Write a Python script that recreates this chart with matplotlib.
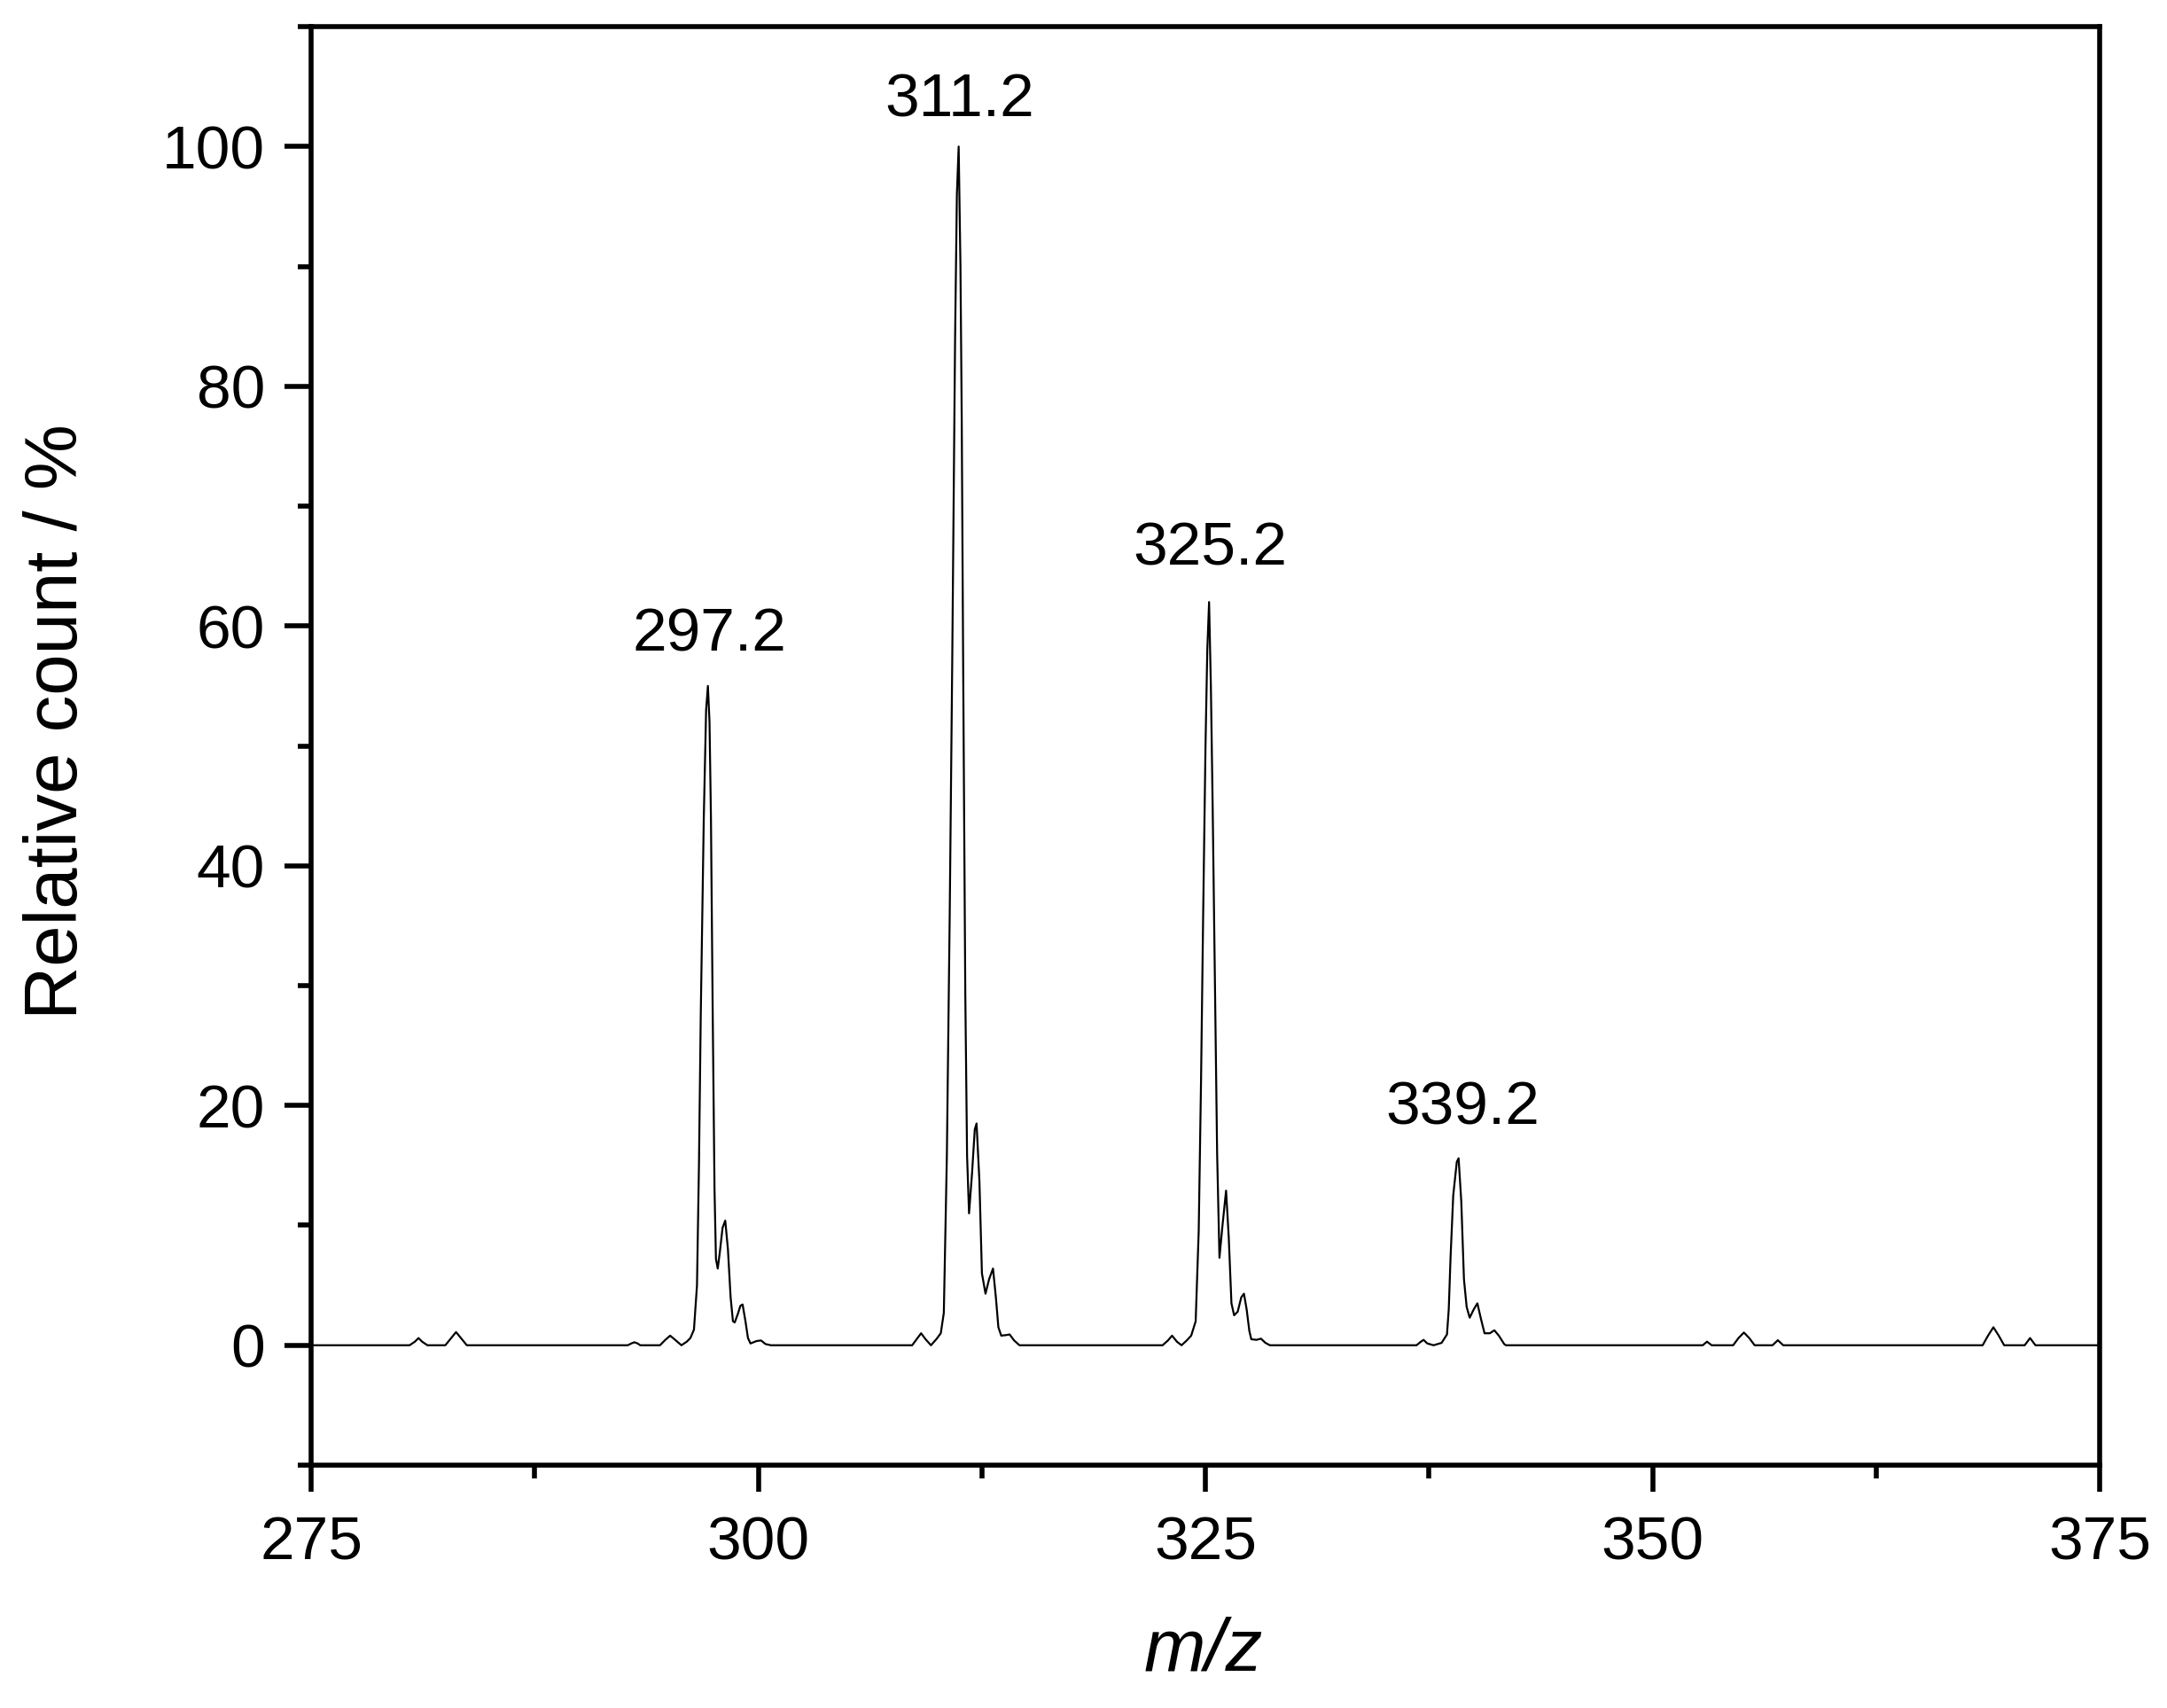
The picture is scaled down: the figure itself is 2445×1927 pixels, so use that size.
import matplotlib
matplotlib.use("Agg")
import matplotlib.pyplot as plt
from matplotlib.ticker import MultipleLocator

# profile of the spectrum (m/z, relative count in %)
mz = [275.0, 280.5, 280.8, 281.0, 281.2, 281.5, 282.5, 282.8, 283.1, 283.4, 283.7,
      292.7, 292.9, 293.07, 293.25, 293.4, 294.5, 294.8, 295.07, 295.35, 295.7,
      296.0, 296.2, 296.4, 296.57, 296.68, 296.78, 296.95, 297.08, 297.18, 297.27,
      297.35, 297.45, 297.55, 297.63, 297.73, 297.85, 298.0, 298.15, 298.3, 298.45,
      298.58, 298.68, 298.85, 299.0, 299.12, 299.28, 299.42, 299.56, 299.9, 300.15,
      300.4, 300.7,
      308.6, 308.85, 309.1, 309.35, 309.65, 309.95, 310.2, 310.37, 310.54, 310.7,
      310.84, 311.0, 311.1, 311.2, 311.3, 311.37, 311.45, 311.57, 311.67, 311.78,
      311.95, 312.1, 312.2, 312.36, 312.5, 312.7, 312.9, 313.12, 313.28, 313.42,
      313.58, 313.85, 314.05, 314.3, 314.6,
      322.6, 322.9, 323.13, 323.4, 323.66, 323.95, 324.2, 324.45, 324.62, 324.75,
      324.87, 325.0, 325.1, 325.2, 325.3, 325.4, 325.53, 325.65, 325.78, 325.95,
      326.15, 326.3, 326.45, 326.6, 326.8, 327.0, 327.15, 327.3, 327.45, 327.56,
      327.85, 328.1, 328.35, 328.6,
      336.8, 337.0, 337.19, 337.4, 337.75, 338.2, 338.5, 338.6, 338.7, 338.85,
      339.05, 339.15, 339.3, 339.45, 339.6, 339.77, 340.0, 340.2, 340.4, 340.6,
      340.9, 341.15, 341.4, 341.7, 341.8,
      352.8, 353.04, 353.3, 354.5, 354.8, 355.1, 355.4, 355.7, 356.7, 357.0, 357.3,
      368.45, 368.75, 369.05, 369.35, 369.65, 370.8, 371.1, 371.4, 375.0]
rel = [0, 0, 0.3, 0.6, 0.3, 0, 0, 0.55, 1.1, 0.55, 0,
       0, 0.15, 0.25, 0.15, 0, 0, 0.45, 0.8, 0.45, 0.0,
       0.3, 0.6, 1.3, 5, 15, 27.5, 44, 53, 55, 52,
       44, 27.5, 13, 7.2, 6.4, 7.8, 9.8, 10.4, 8, 4,
       2.0, 1.9, 2.6, 3.3, 3.4, 2.0, 0.6, 0.15, 0.35, 0.4,
       0.1, 0,
       0, 0.5, 1.0, 0.5, 0, 0.5, 1.0, 2.7, 15.8, 36,
       57, 84, 96, 100, 90, 77.5, 57, 29.4, 15.8, 11,
       14.4, 18, 18.5, 13.7, 6, 4.3, 5.5, 6.4, 4, 1.5,
       0.8, 0.85, 0.9, 0.4, 0,
       0, 0.4, 0.8, 0.3, 0, 0.4, 0.8, 2, 9.5, 22,
       36, 50, 58, 62, 55, 45, 30, 16, 7.3, 10,
       12.9, 9, 3.5, 2.5, 2.8, 4, 4.3, 3, 1.2, 0.5,
       0.45, 0.55, 0.2, 0,
       0, 0.25, 0.45, 0.15, 0, 0.2, 0.9, 3, 7.3, 12.5,
       15.3, 15.6, 12, 5.5, 3.2, 2.3, 3.0, 3.5, 2.2, 1.0,
       1.0, 1.25, 0.8, 0.1, 0,
       0, 0.3, 0, 0, 0.6, 1.06, 0.6, 0, 0, 0.42, 0,
       0, 0.8, 1.5, 0.8, 0, 0, 0.6, 0, 0]

# peak annotations
label_text = ["297.2", "311.2", "325.2", "339.2"]
label_x = [297.25, 311.25, 325.25, 339.4]
label_y = [57.9, 102.5, 65.1, 18.4]

plt.rcParams['font.family'] = ['Liberation Sans', 'DejaVu Sans']

fig = plt.figure(figsize=(12.225, 9.635), dpi=200)
ax = fig.add_axes([0.1436, 0.1422, 0.8254, 0.8422])

ax.plot(mz, rel, color="black", linewidth=0.8)

for t, x, y in zip(label_text, label_x, label_y):
    ax.text(x, y, t, ha="center", va="baseline", fontsize=25)

ax.set_xlim(275, 375)
ax.set_ylim(-10, 110)
ax.xaxis.set_major_locator(MultipleLocator(25))
ax.xaxis.set_minor_locator(MultipleLocator(12.5))
ax.yaxis.set_major_locator(MultipleLocator(20))
ax.yaxis.set_minor_locator(MultipleLocator(10))

for s in ax.spines.values():
    s.set_linewidth(2.0)
ax.tick_params(which="both", direction="out", width=2.0, labelsize=25,
               top=False, right=False)
ax.tick_params(which="major", length=10.8)
ax.tick_params(which="minor", length=5.4)
ax.tick_params(axis="x", which="major", pad=9.5)
ax.tick_params(axis="y", which="major", pad=8)

ax.text(0.499, -0.129, "m/z", transform=ax.transAxes, ha="center", va="center",
        fontsize=30, style="italic")
ax.text(-0.1417, 0.517, "Relative count / %", transform=ax.transAxes,
        ha="center", va="center", rotation=90, fontsize=30)

fig.savefig("out.png", dpi=200)
